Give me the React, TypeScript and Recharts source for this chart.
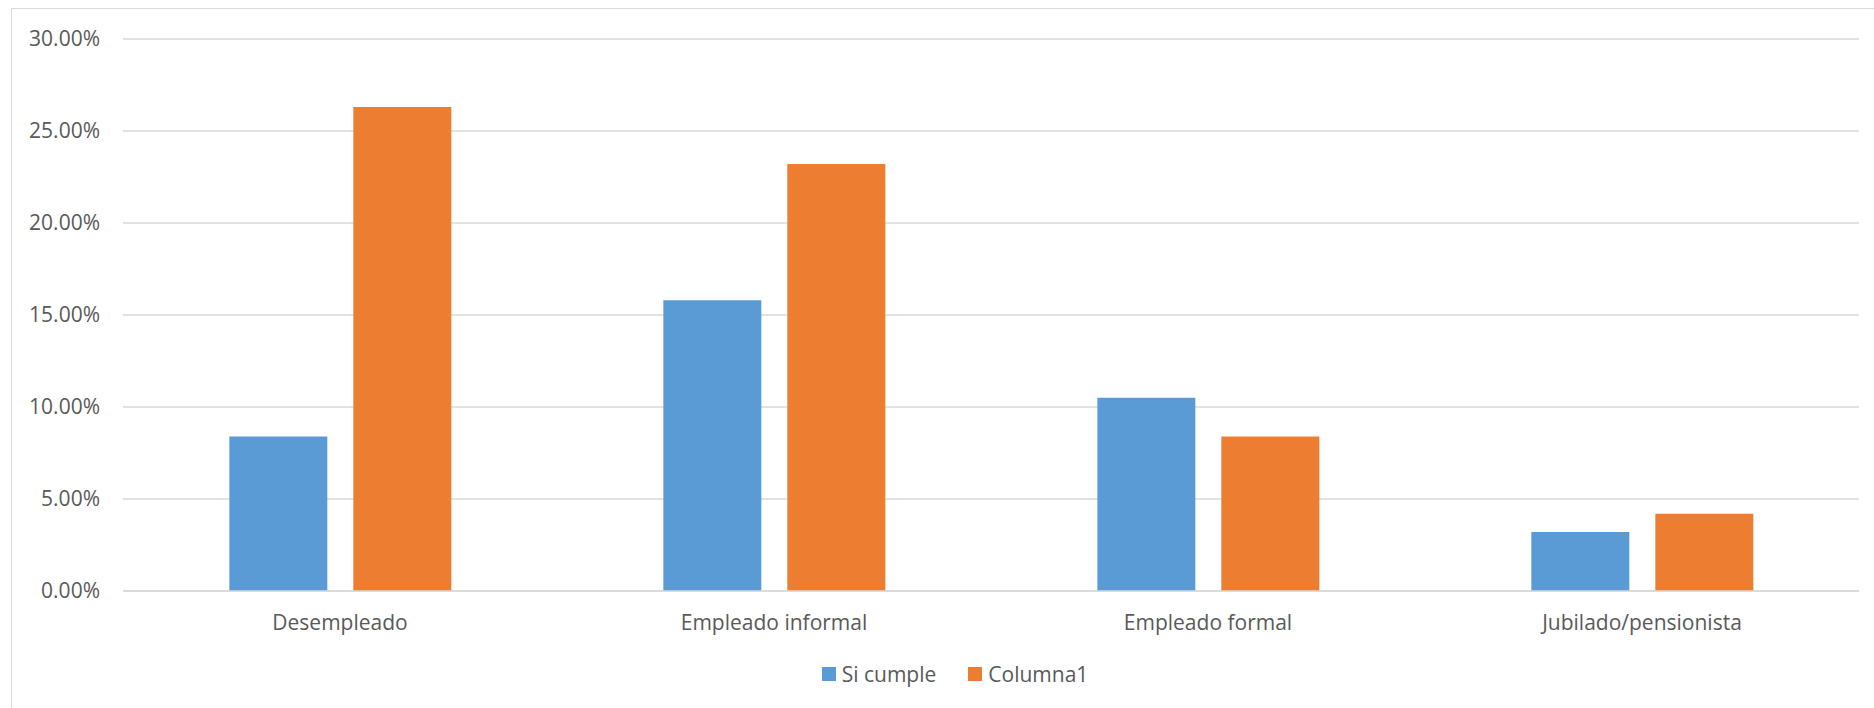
import { BarChart, Bar, XAxis, YAxis, CartesianGrid, Legend } from 'recharts'

const categories = ['Desempleado', 'Empleado informal', 'Empleado formal', 'Jubilado/pensionista']
const siCumple = [8.4, 15.8, 10.5, 3.2]
const columna1 = [26.3, 23.2, 8.4, 4.2]
const yTicks = [0, 5, 10, 15, 20, 25, 30]

const BLUE = '#5b9bd5'
const ORANGE = '#ed7d31'
const TEXT = '#595959'
const FONT = '"Open Sans", sans-serif'

const data = categories.map((name, i) => ({ name, siCumple: siCumple[i], columna1: columna1[i] }))

const legendItems = [
  { label: 'Si cumple', color: BLUE },
  { label: 'Columna1', color: ORANGE },
]

function LegendContent() {
  return (
    <div style={{ display: 'flex', justifyContent: 'center', gap: 32, fontFamily: FONT, fontSize: 21, color: TEXT }}>
      {legendItems.map((it) => (
        <div key={it.label} style={{ display: 'flex', alignItems: 'center', gap: 6 }}>
          <span style={{ display: 'inline-block', width: 14, height: 14, background: it.color }} />
          <span>{it.label}</span>
        </div>
      ))}
    </div>
  )
}

export default function App() {
  return (
    <div style={{ position: 'absolute', left: 0, top: 0, width: 1874, height: 708, overflow: 'hidden', background: '#fff' }}>
      <div style={{ position: 'absolute', left: 11, top: 8, width: 1880, height: 720, border: '1px solid #d9d9d9' }} />
      <BarChart
        width={1874}
        height={708}
        data={data}
        margin={{ top: 39, right: 15, left: 0, bottom: 77 }}
        barCategoryGap="24.5%"
        barGap={26}
      >
        <CartesianGrid vertical={false} stroke="#d9d9d9" strokeWidth={1.5} />
        <XAxis
          dataKey="name"
          height={40}
          axisLine={{ stroke: '#d9d9d9', strokeWidth: 1.5 }}
          tickLine={false}
          tickMargin={18}
          tick={{ fill: TEXT, fontSize: 21, fontFamily: FONT }}
        />
        <YAxis
          width={123}
          domain={[0, 30]}
          ticks={yTicks}
          axisLine={false}
          tickLine={false}
          tickMargin={17}
          tickFormatter={(v: number) => v.toFixed(2) + '%'}
          tick={{ fill: TEXT, fontSize: 21, fontFamily: FONT }}
        />
        <Legend
          verticalAlign="middle"
          align="center"
          layout="horizontal"
          content={LegendContent}
          wrapperStyle={{ top: 660, left: 0, width: 1910 }}
        />
        <Bar dataKey="siCumple" name="Si cumple" fill={BLUE} isAnimationActive={false} />
        <Bar dataKey="columna1" name="Columna1" fill={ORANGE} isAnimationActive={false} />
      </BarChart>
    </div>
  )
}
